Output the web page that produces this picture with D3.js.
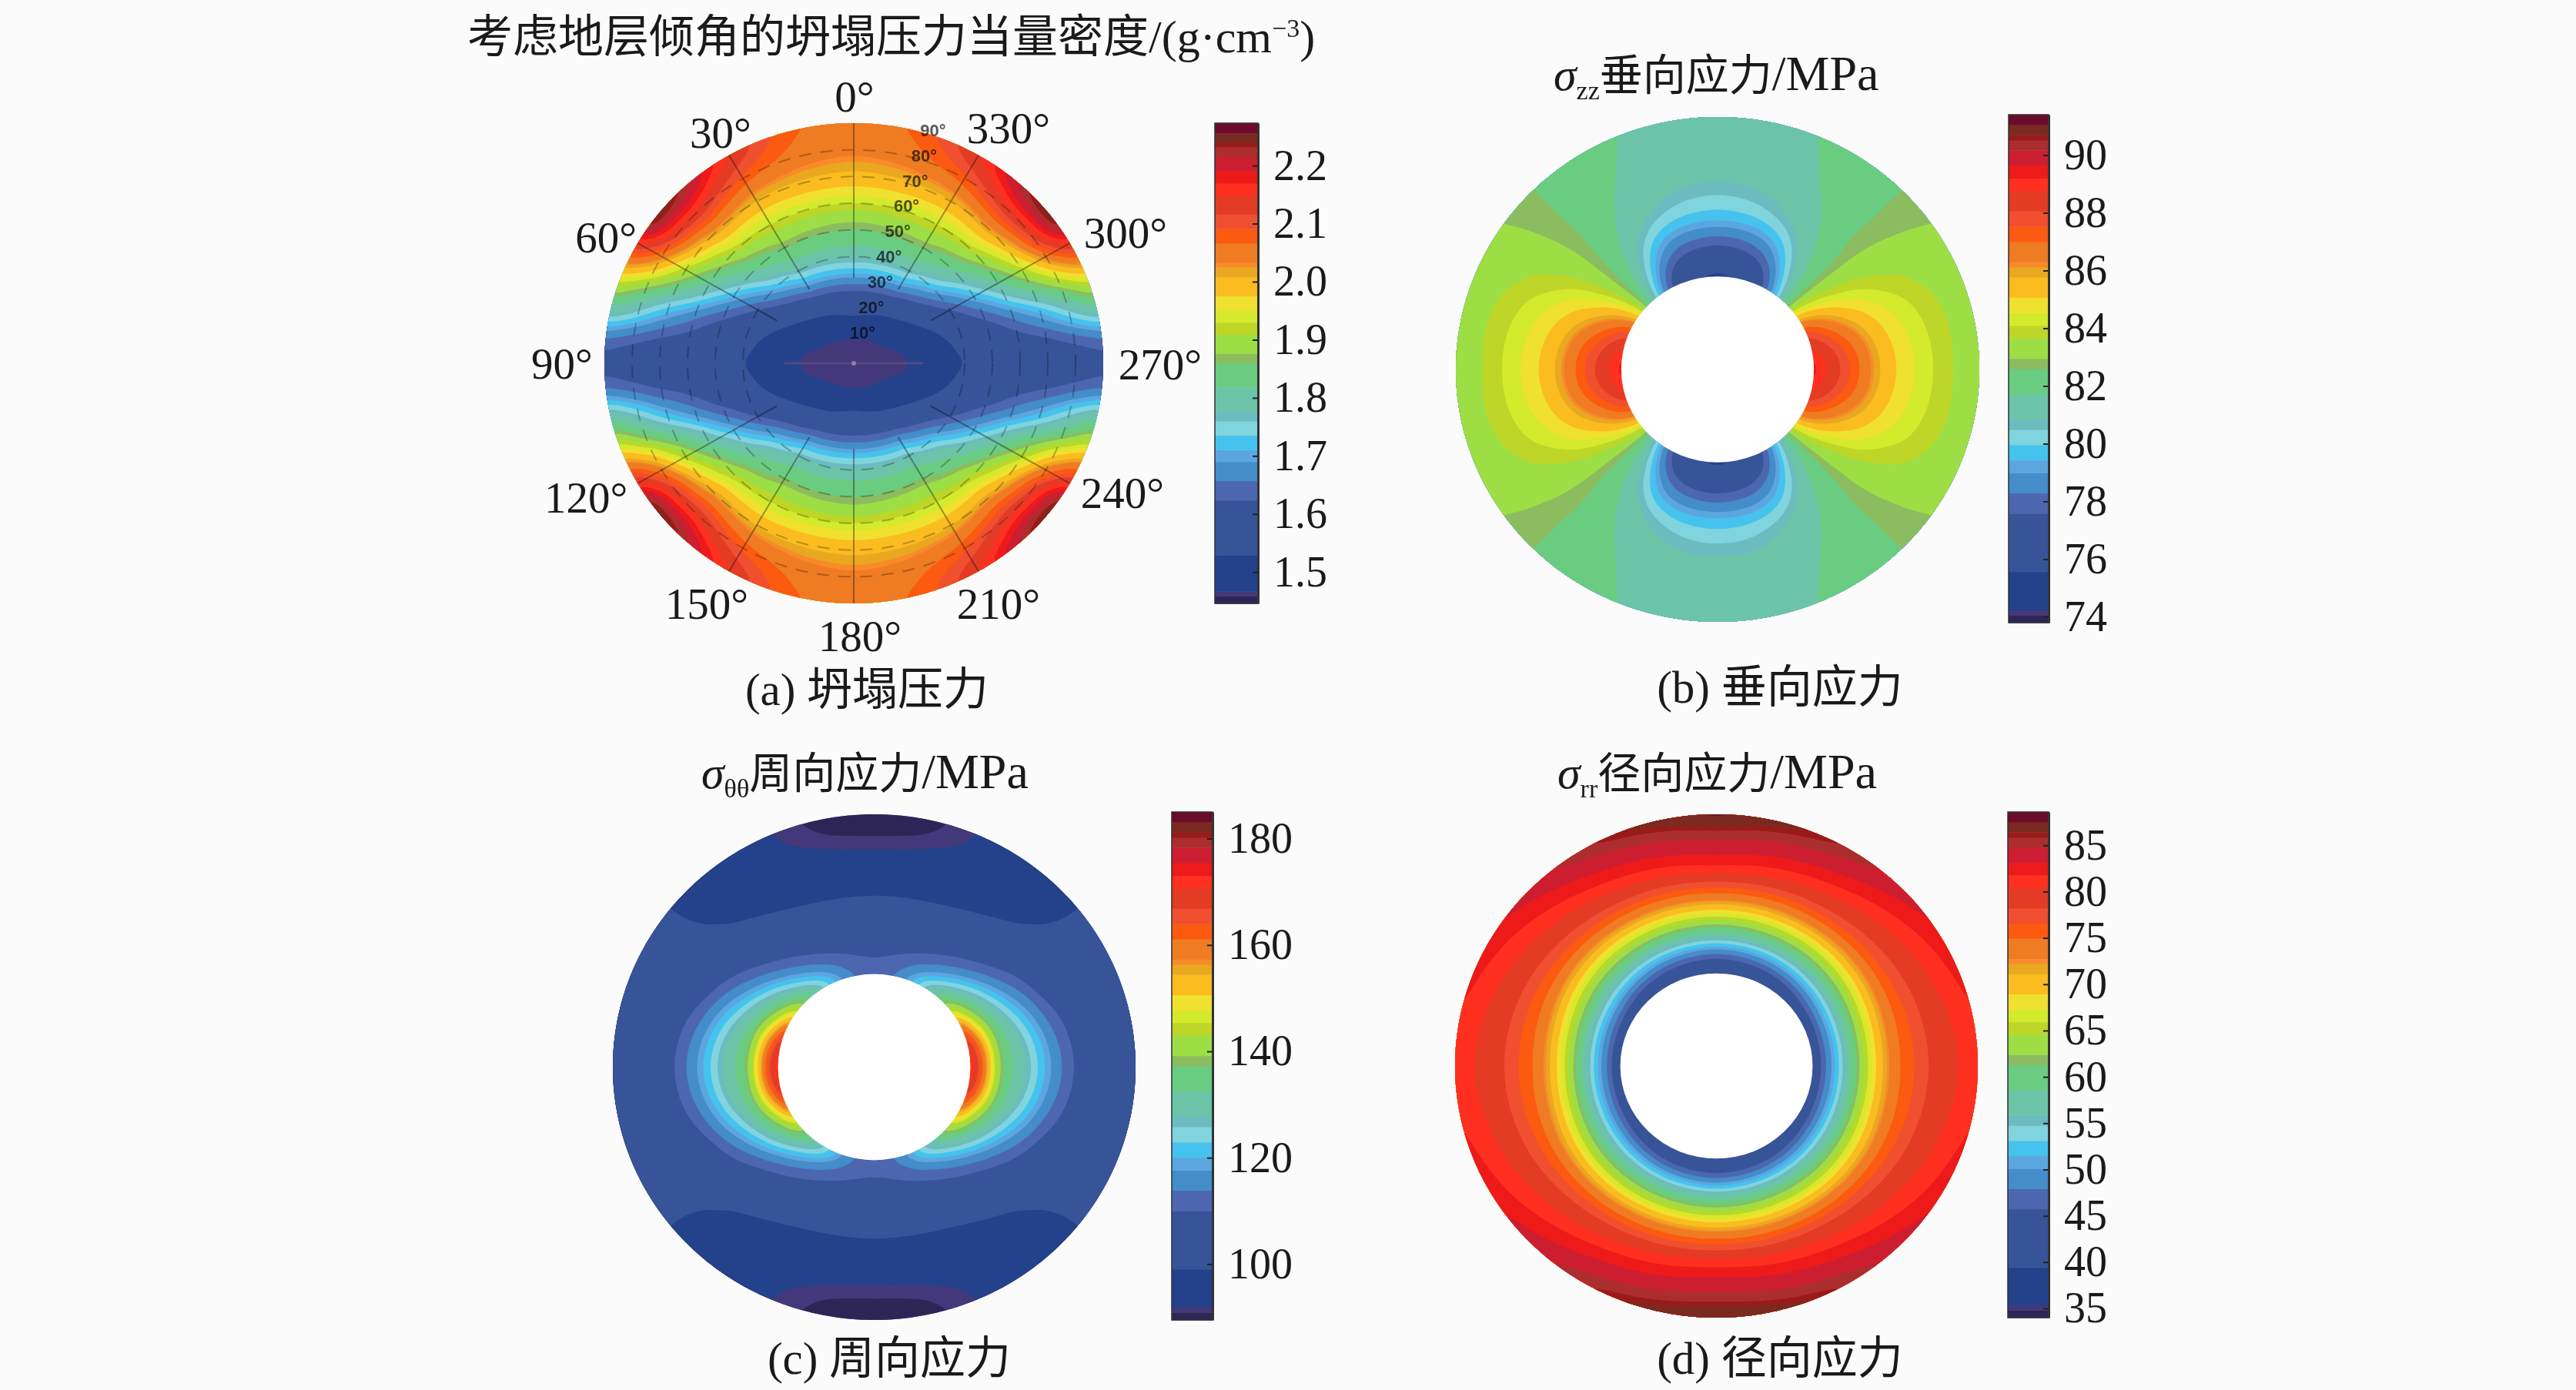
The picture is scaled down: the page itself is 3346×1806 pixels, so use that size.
<!DOCTYPE html>
<html>
<head>
<meta charset="utf-8">
<script src="https://cdnjs.cloudflare.com/ajax/libs/d3/7.8.5/d3.min.js"></script>
<style>
    html, body { margin: 0; background: #fbfbfb; }
    svg { display: block; }
    text { font-family: "Liberation Serif", "Noto Sans CJK SC", serif; fill: #1a1a1a; }
</style>
</head>
<body>
<svg id="chart" width="3346" height="1806"></svg>
<script>
// Colour bands shared by all four colorbars: lower edge of each band as a fraction of the bar
const bandStops = [0, 0.015, 0.025, 0.10, 0.215, 0.255, 0.295, 0.32, 0.35, 0.38, 0.40, 0.45, 0.50, 0.52, 0.56,
    0.585, 0.61, 0.64, 0.68, 0.70, 0.71, 0.75, 0.78, 0.81, 0.85, 0.875, 0.90, 0.93, 0.95, 0.96, 0.98];
const bandColors = ['#2e2557', '#43397a', '#24418b', '#375499', '#4c67b0', '#448cca', '#5ca6e0', '#45c3ee', '#7fd4de', '#6cbbc0', '#6cc4a8', '#6acc80', '#8cbc60', '#9ede45', '#bdd627',
    '#d4ea2c', '#f0e030', '#fbbc20', '#e9a81f', '#f98a2a', '#ef7b22', '#fb5a10', '#f04f30', '#e43c24', '#ff3020', '#ee1a1a', '#cc1e30', '#ac2d2e', '#9a1a1a', '#7a2a20', '#6c0a2a'];

// Values for one quadrant, rows by angle from the top, columns by radius
const collapseAngles = [0, 15, 30, 45, 55, 65, 72, 78, 84, 90];
const collapseRadii = [0, 0.1, 0.2, 0.3, 0.4, 0.5, 0.6, 0.7, 0.8, 0.9, 1];
const collapseValues = [
    [1.46, 1.46, 1.53, 1.62, 1.745, 1.83, 1.88, 1.955, 2.01, 2.045, 2.055],
    [1.46, 1.46, 1.52, 1.615, 1.74, 1.83, 1.885, 1.955, 2.015, 2.055, 2.07],
    [1.46, 1.46, 1.50, 1.60, 1.73, 1.83, 1.89, 1.95, 2.02, 2.09, 2.15],
    [1.46, 1.46, 1.49, 1.56, 1.67, 1.78, 1.86, 1.95, 2.05, 2.16, 2.25],
    [1.46, 1.46, 1.48, 1.535, 1.62, 1.70, 1.80, 1.89, 2.00, 2.14, 2.27],
    [1.46, 1.46, 1.475, 1.51, 1.565, 1.63, 1.70, 1.79, 1.88, 1.98, 2.05],
    [1.46, 1.46, 1.468, 1.50, 1.54, 1.59, 1.635, 1.69, 1.75, 1.82, 1.90],
    [1.46, 1.46, 1.465, 1.495, 1.53, 1.56, 1.60, 1.64, 1.68, 1.74, 1.79],
    [1.46, 1.46, 1.462, 1.49, 1.525, 1.548, 1.57, 1.585, 1.60, 1.62, 1.645],
    [1.46, 1.46, 1.462, 1.49, 1.52, 1.54, 1.555, 1.57, 1.58, 1.59, 1.595]
];

const verticalAngles = [0, 15, 25, 32, 38, 44, 50, 56, 64, 72, 81, 90];
const verticalRadii = [0.368, 0.42, 0.48, 0.54, 0.6, 0.66, 0.72, 0.78, 0.84, 0.92, 1];
const verticalValues = [
    [75.3, 76.0, 77.3, 78.5, 79.6, 80.2, 80.7, 81.0, 81.2, 81.3, 81.4],
    [75.6, 76.3, 77.6, 78.7, 79.7, 80.4, 80.8, 81.1, 81.3, 81.4, 81.5],
    [76.8, 77.4, 78.4, 79.3, 80.2, 80.9, 81.2, 81.4, 81.6, 81.7, 81.8],
    [78.4, 79.0, 79.9, 80.6, 81.1, 81.4, 81.6, 81.8, 81.9, 82.0, 82.0],
    [80.0, 80.7, 81.2, 81.5, 81.8, 81.9, 82.1, 82.2, 82.2, 82.3, 82.3],
    [81.6, 81.9, 82.1, 82.3, 82.4, 82.5, 82.6, 82.6, 82.6, 82.6, 82.6],
    [83.8, 83.4, 83.2, 83.1, 83.0, 83.0, 82.95, 82.9, 82.85, 82.8, 82.8],
    [85.6, 85.0, 84.4, 84.0, 83.8, 83.6, 83.4, 83.3, 83.2, 83.1, 83.0],
    [87.4, 86.8, 86.0, 85.2, 84.8, 84.4, 84.1, 83.9, 83.6, 83.4, 83.2],
    [88.4, 87.8, 87.0, 86.2, 85.4, 84.9, 84.5, 84.2, 83.9, 83.5, 83.2],
    [89.2, 88.6, 87.8, 87.0, 86.0, 85.2, 84.7, 84.3, 84.0, 83.6, 83.2],
    [89.5, 88.8, 88.0, 87.1, 86.1, 85.3, 84.8, 84.4, 84.0, 83.5, 83.0]
];

const hoopAngles = [0, 12, 22, 33, 44, 54, 64, 72, 80, 90];
const hoopRadii = [0.368, 0.40, 0.44, 0.48, 0.52, 0.58, 0.64, 0.70, 0.78, 0.86, 0.93, 1];
const hoopValues = [
    [111.5, 110.5, 109.8, 108, 106, 103.5, 100.8, 98, 94, 91.8, 90.6, 89.9],
    [113.5, 112, 110.5, 108.5, 106.5, 103.8, 101, 98, 94.5, 92, 90.8, 90.3],
    [119.5, 117, 113, 110, 107.5, 104.5, 101.5, 98.5, 96, 93.5, 92, 91.6],
    [127.7, 124, 118, 113, 110, 106, 103, 99.8, 97, 95, 94, 93.5],
    [137, 132, 125, 119.5, 114, 109, 105, 102, 99, 97.5, 97, 96.8],
    [147, 141, 133, 127, 121, 114, 109.5, 105.5, 102, 100.5, 100, 100],
    [161, 151, 140, 133, 127.5, 120, 114, 108.5, 104.5, 103, 102.5, 102.5],
    [170, 160, 148, 137, 131, 124.5, 118, 112, 106.5, 104.5, 104, 103.5],
    [173.5, 166, 152, 138, 133, 127, 120.5, 114.5, 108, 105.5, 104.5, 104],
    [174.5, 168, 153, 139, 134, 128.5, 122, 116, 109, 106, 104.5, 104]
];

const radialAngles = [0, 30, 45, 60, 75, 90];
const radialRadii = [0.368, 0.40, 0.43, 0.46, 0.50, 0.54, 0.58, 0.62, 0.66, 0.71, 0.77, 0.84, 0.92, 1];
const radialValues = [
    [39.5, 43, 46, 49.5, 54.8, 59.8, 64.4, 69, 73, 76.8, 81, 83.4, 85.6, 88],
    [40, 43.6, 46.8, 50.2, 55, 60, 64.4, 68.6, 72.5, 76, 79.5, 81.8, 84, 86],
    [40.5, 44.5, 47.5, 51, 55.5, 60.2, 64.4, 68.4, 72, 75.6, 78.4, 80.6, 82.4, 84],
    [41, 45.5, 48.5, 51.8, 56, 60.8, 64.8, 68.8, 72, 75.2, 77.6, 79.8, 81.2, 82.8],
    [41, 46, 49, 52, 56.6, 61.4, 65.8, 69.6, 72.6, 75.2, 77, 79.4, 80.6, 81.8],
    [41, 46, 49.2, 52, 56.8, 61.8, 66, 70, 72.9, 75.4, 76.9, 79, 80.2, 81.5]
];

// Tick labels of the colorbars
const collapseTicks = [1.5, 1.6, 1.7, 1.8, 1.9, 2.0, 2.1, 2.2];
const verticalTicks = [74, 76, 78, 80, 82, 84, 86, 88, 90];
const hoopTicks = [100, 120, 140, 160, 180];
const radialTicks = [35, 40, 45, 50, 55, 60, 65, 70, 75, 80, 85];

// Polar frame of panel (a)
const azimuthLabels = [0, 30, 60, 90, 120, 150, 180, 210, 240, 270, 300, 330];
const dipLabels = [10, 20, 30, 40, 50, 60, 70, 80, 90];

const svg = d3.select('#chart');
const gridAngles = 480;
const gridRadii = 140;

/**
 * Read the quadrant table at any angle, the other three quadrants mirror it
 */
function makeLookup(angles, radii, table) {
    const angleIndex = d3.scaleLinear().domain(angles).range(d3.range(angles.length));
    const radiusIndex = d3.scaleLinear().domain(radii).range(d3.range(radii.length));
    return (angle, radius) => {
        const folded = angle <= 90 ? angle : angle <= 180 ? 180 - angle : angle <= 270 ? angle - 180 : 360 - angle;
        const a = angleIndex(folded);
        const r = radiusIndex(radius);
        const a0 = Math.min(Math.floor(a), angles.length - 2);
        const r0 = Math.min(Math.floor(r), radii.length - 2);
        const top = d3.interpolateNumber(table[a0][r0], table[a0][r0 + 1])(r - r0);
        const bottom = d3.interpolateNumber(table[a0 + 1][r0], table[a0 + 1][r0 + 1])(r - r0);
        return d3.interpolateNumber(top, bottom)(a - a0);
    };
}

/**
 * Filled contour bands of one polar table, drawn in an ellipse
 */
function drawField(p) {
    const lookup = makeLookup(p.angles, p.radii, p.values);
    const inner = p.radii[0];

    // Contour grid coordinates map to angle and radius
    const angleScale = d3.scaleLinear().domain([0.5, gridAngles - 0.5]).range([0, 360]).clamp(true);
    const radiusScale = d3.scaleLinear().domain([0.5, gridRadii - 0.5]).range([inner, 1]).clamp(true);

    const grid = new Float64Array(gridAngles * gridRadii);
    for (let j = 0; j < gridRadii; j++) {
        for (let i = 0; i < gridAngles; i++) {
            grid[j * gridAngles + i] = lookup(angleScale(i + 0.5), radiusScale(j + 0.5));
        }
    }

    // Takes the corners off the hand-read table
    d3.blur2({ data: grid, width: gridAngles, height: gridRadii }, p.blur, 3);

    const fraction = d3.scaleLinear().domain([0, 1]).range(p.domain);
    const thresholds = bandStops.map(fraction);
    const contours = d3.contours().size([gridAngles, gridRadii]).thresholds(thresholds)(grid);

    const path = d3.geoPath(d3.geoTransform({
        point(x, y) {
            const angle = angleScale(x) * Math.PI / 180;
            const radius = radiusScale(y);
            this.stream.point(p.cx - p.rx * radius * Math.sin(angle), p.cy - p.ry * radius * Math.cos(angle));
        }
    }));

    const g = svg.append('g').attr('class', 'field');

    // Base disc so that antialiased seams do not show the page through
    g.append('ellipse')
        .attr('cx', p.cx).attr('cy', p.cy)
        .attr('rx', p.rx).attr('ry', p.ry)
        .attr('fill', bandColors[3]);

    g.selectAll('path')
        .data(contours)
        .enter().append('path')
        .attr('d', path)
        .attr('fill', (d, i) => bandColors[i]);

    if (inner > 0) {
        g.append('ellipse')
            .attr('cx', p.cx).attr('cy', p.cy)
            .attr('rx', p.rx * inner).attr('ry', p.ry * inner)
            .attr('fill', '#ffffff');
    }
}

/**
 * Stepped colorbar with inward ticks
 */
function drawColorbar(p) {
    const y = d3.scaleLinear().domain(p.domain).range([p.barBottom, p.barTop]);
    const fraction = d3.scaleLinear().domain([0, 1]).range(p.domain);
    const edges = bandStops.map(fraction).concat(p.domain[1]);

    const g = svg.append('g').attr('class', 'colorbar');

    g.selectAll('rect.band')
        .data(bandColors)
        .enter().append('rect')
        .attr('class', 'band')
        .attr('x', p.barLeft)
        .attr('width', p.barRight - p.barLeft)
        .attr('y', (d, i) => y(edges[i + 1]))
        .attr('height', (d, i) => y(edges[i]) - y(edges[i + 1]) + 0.5)
        .attr('fill', d => d);

    g.append('rect')
        .attr('x', p.barLeft).attr('y', p.barTop)
        .attr('width', p.barRight - p.barLeft)
        .attr('height', p.barBottom - p.barTop)
        .attr('fill', 'none')
        .attr('stroke', '#2f2f3a')
        .attr('stroke-width', 1.5);

    const axis = d3.axisRight(y)
        .tickValues(p.ticks)
        .tickFormat(p.format)
        .tickSizeInner(-7)
        .tickSizeOuter(0)
        .tickPadding(20);

    const axisG = g.append('g')
        .attr('transform', `translate(${p.barRight},0)`)
        .call(axis);

    axisG.select('.domain').attr('stroke', '#333').attr('stroke-width', 3);
    axisG.selectAll('.tick line').attr('stroke', '#222').attr('stroke-width', 2);
    axisG.selectAll('.tick text')
        .attr('font-size', 56)
        .style('font-family', '"Liberation Serif", serif');
}

/**
 * Dip rings, azimuth spokes and labels of panel (a)
 */
function drawPolarFrame(p) {
    const dip = d3.scaleLinear().domain([0, 90]).range([0, 1]);
    const g = svg.append('g').attr('class', 'polar-frame');
    const blend = sel => sel.style('mix-blend-mode', 'multiply');

    // Rings are only readable outside the dark centre
    g.selectAll('ellipse')
        .data(dipLabels.filter(d => d >= 40 && d < 90))
        .enter().append('ellipse')
        .attr('cx', p.cx).attr('cy', p.cy)
        .attr('rx', d => p.rx * dip(d))
        .attr('ry', d => p.ry * dip(d))
        .attr('fill', 'none')
        .attr('stroke', '#bdbdbd')
        .attr('stroke-width', 2)
        .attr('stroke-dasharray', '16,12')
        .call(blend);

    const spokeFrom = dip(32);
    g.selectAll('line.spoke')
        .data(azimuthLabels.filter(d => d % 90 !== 0 || d % 180 === 0))
        .enter().append('line')
        .attr('class', 'spoke')
        .attr('x1', d => p.cx - p.rx * spokeFrom * Math.sin(d * Math.PI / 180))
        .attr('y1', d => p.cy - p.ry * spokeFrom * Math.cos(d * Math.PI / 180))
        .attr('x2', d => p.cx - p.rx * Math.sin(d * Math.PI / 180))
        .attr('y2', d => p.cy - p.ry * Math.cos(d * Math.PI / 180))
        .attr('stroke', '#a4a4a4')
        .attr('stroke-width', 2)
        .call(blend);

    // Short centre line and pole
    g.append('line')
        .attr('x1', p.cx - p.rx * dip(25)).attr('x2', p.cx + p.rx * dip(25))
        .attr('y1', p.cy).attr('y2', p.cy)
        .attr('stroke', '#5d4a80').attr('stroke-width', 2.5);
    g.append('circle')
        .attr('cx', p.cx).attr('cy', p.cy).attr('r', 3)
        .attr('fill', '#8d7fa0');

    // Small dip labels along one ray
    const labelRay = 18.5 * Math.PI / 180;
    g.selectAll('text.dip')
        .data(dipLabels)
        .enter().append('text')
        .attr('class', 'dip')
        .attr('x', d => p.cx + p.rx * dip(d) * Math.sin(labelRay))
        .attr('y', d => p.cy - p.ry * dip(d) * Math.cos(labelRay) - 7)
        .attr('dy', '0.35em')
        .attr('text-anchor', 'middle')
        .attr('font-size', 22)
        .attr('font-weight', 700)
        .style('font-family', '"Liberation Sans", sans-serif')
        .style('fill', '#5a5a5a')
        .text(d => `${d}°`)
        .call(blend);

    // Azimuth labels sit just outside the rim, each nudged around its neighbour
    const nudges = {
        0: [1, 7], 30: [10, 7], 60: [-5, 13], 90: [-13, 0], 120: [-31, -3], 150: [-8, 5],
        180: [8, 0], 210: [5, 5], 240: [32, -9], 270: [32, 1], 300: [36, 7], 330: [18, 1]
    };
    g.selectAll('text.azimuth')
        .data(azimuthLabels)
        .enter().append('text')
        .attr('class', 'azimuth')
        .attr('x', d => p.cx - (p.rx + 42) * Math.sin(d * Math.PI / 180) + nudges[d][0])
        .attr('y', d => p.cy - (p.ry + 42) * Math.cos(d * Math.PI / 180) + nudges[d][1])
        .attr('dy', '0.35em')
        .attr('text-anchor', 'middle')
        .attr('font-size', 57)
        .text(d => `${d}°`);
}

/**
 * Title with mixed Latin, subscript and CJK runs
 */
function drawTitle(x, y, size, runs) {
    const text = svg.append('text')
        .attr('x', x).attr('y', y)
        .attr('font-size', size);
    let shift = 0;
    runs.forEach(run => {
        const offset = (run.shift || 0) - shift;
        shift = run.shift || 0;
        text.append('tspan')
            .attr('dy', offset)
            .attr('font-size', run.size || size)
            .attr('font-style', run.italic ? 'italic' : 'normal')
            .text(run.text);
    });
}

function drawCaption(x, y, label) {
    svg.append('text')
        .attr('x', x).attr('y', y)
        .attr('text-anchor', 'middle')
        .attr('font-size', 59)
        .text(label);
}

const panels = [
    {
        angles: collapseAngles, radii: collapseRadii, values: collapseValues, ticks: collapseTicks,
        domain: [1.446, 2.273], format: d3.format('.1f'), blur: 3,
        cx: 1109, cy: 472, rx: 324, ry: 312,
        barLeft: 1578, barRight: 1634, barTop: 160, barBottom: 784
    },
    {
        angles: verticalAngles, radii: verticalRadii, values: verticalValues, ticks: verticalTicks,
        domain: [73.8, 91.4], format: d3.format('d'), blur: 6,
        cx: 2231, cy: 480, rx: 340, ry: 328,
        barLeft: 2609, barRight: 2661, barTop: 149, barBottom: 809
    },
    {
        angles: hoopAngles, radii: hoopRadii, values: hoopValues, ticks: hoopTicks,
        domain: [89.5, 185], format: d3.format('d'), blur: 6,
        cx: 1135.5, cy: 1386.5, rx: 339.5, ry: 328.5,
        barLeft: 1522, barRight: 1575, barTop: 1055, barBottom: 1715
    },
    {
        angles: radialAngles, radii: radialRadii, values: radialValues, ticks: radialTicks,
        domain: [34, 88.6], format: d3.format('d'), blur: 6,
        cx: 2229.5, cy: 1385, rx: 339.5, ry: 327,
        barLeft: 2608, barRight: 2661, barTop: 1055, barBottom: 1712
    }
];

panels.forEach(p => {
    drawField(p);
    drawColorbar(p);
});
drawPolarFrame(panels[0]);

drawTitle(607, 68, 59, [
    { text: '考虑地层倾角的坍塌压力当量密度' },
    { text: '/(g·cm', size: 60 },
    { text: '−3', size: 34, shift: -20 },
    { text: ')', size: 60 }
]);
drawTitle(2018, 117, 56, [
    { text: 'σ', italic: true, size: 60 },
    { text: 'zz', size: 34, shift: 12 },
    { text: '垂向应力' },
    { text: '/MPa', size: 64 }
]);
drawTitle(911, 1024, 56, [
    { text: 'σ', italic: true, size: 60 },
    { text: 'θθ', size: 34, shift: 12 },
    { text: '周向应力' },
    { text: '/MPa', size: 64 }
]);
drawTitle(2023, 1024, 56, [
    { text: 'σ', italic: true, size: 60 },
    { text: 'rr', size: 34, shift: 12 },
    { text: '径向应力' },
    { text: '/MPa', size: 64 }
]);

drawCaption(1126, 916, '(a) 坍塌压力');
drawCaption(2312, 913, '(b) 垂向应力');
drawCaption(1155, 1785, '(c) 周向应力');
drawCaption(2312, 1785, '(d) 径向应力');
</script>
</body>
</html>
